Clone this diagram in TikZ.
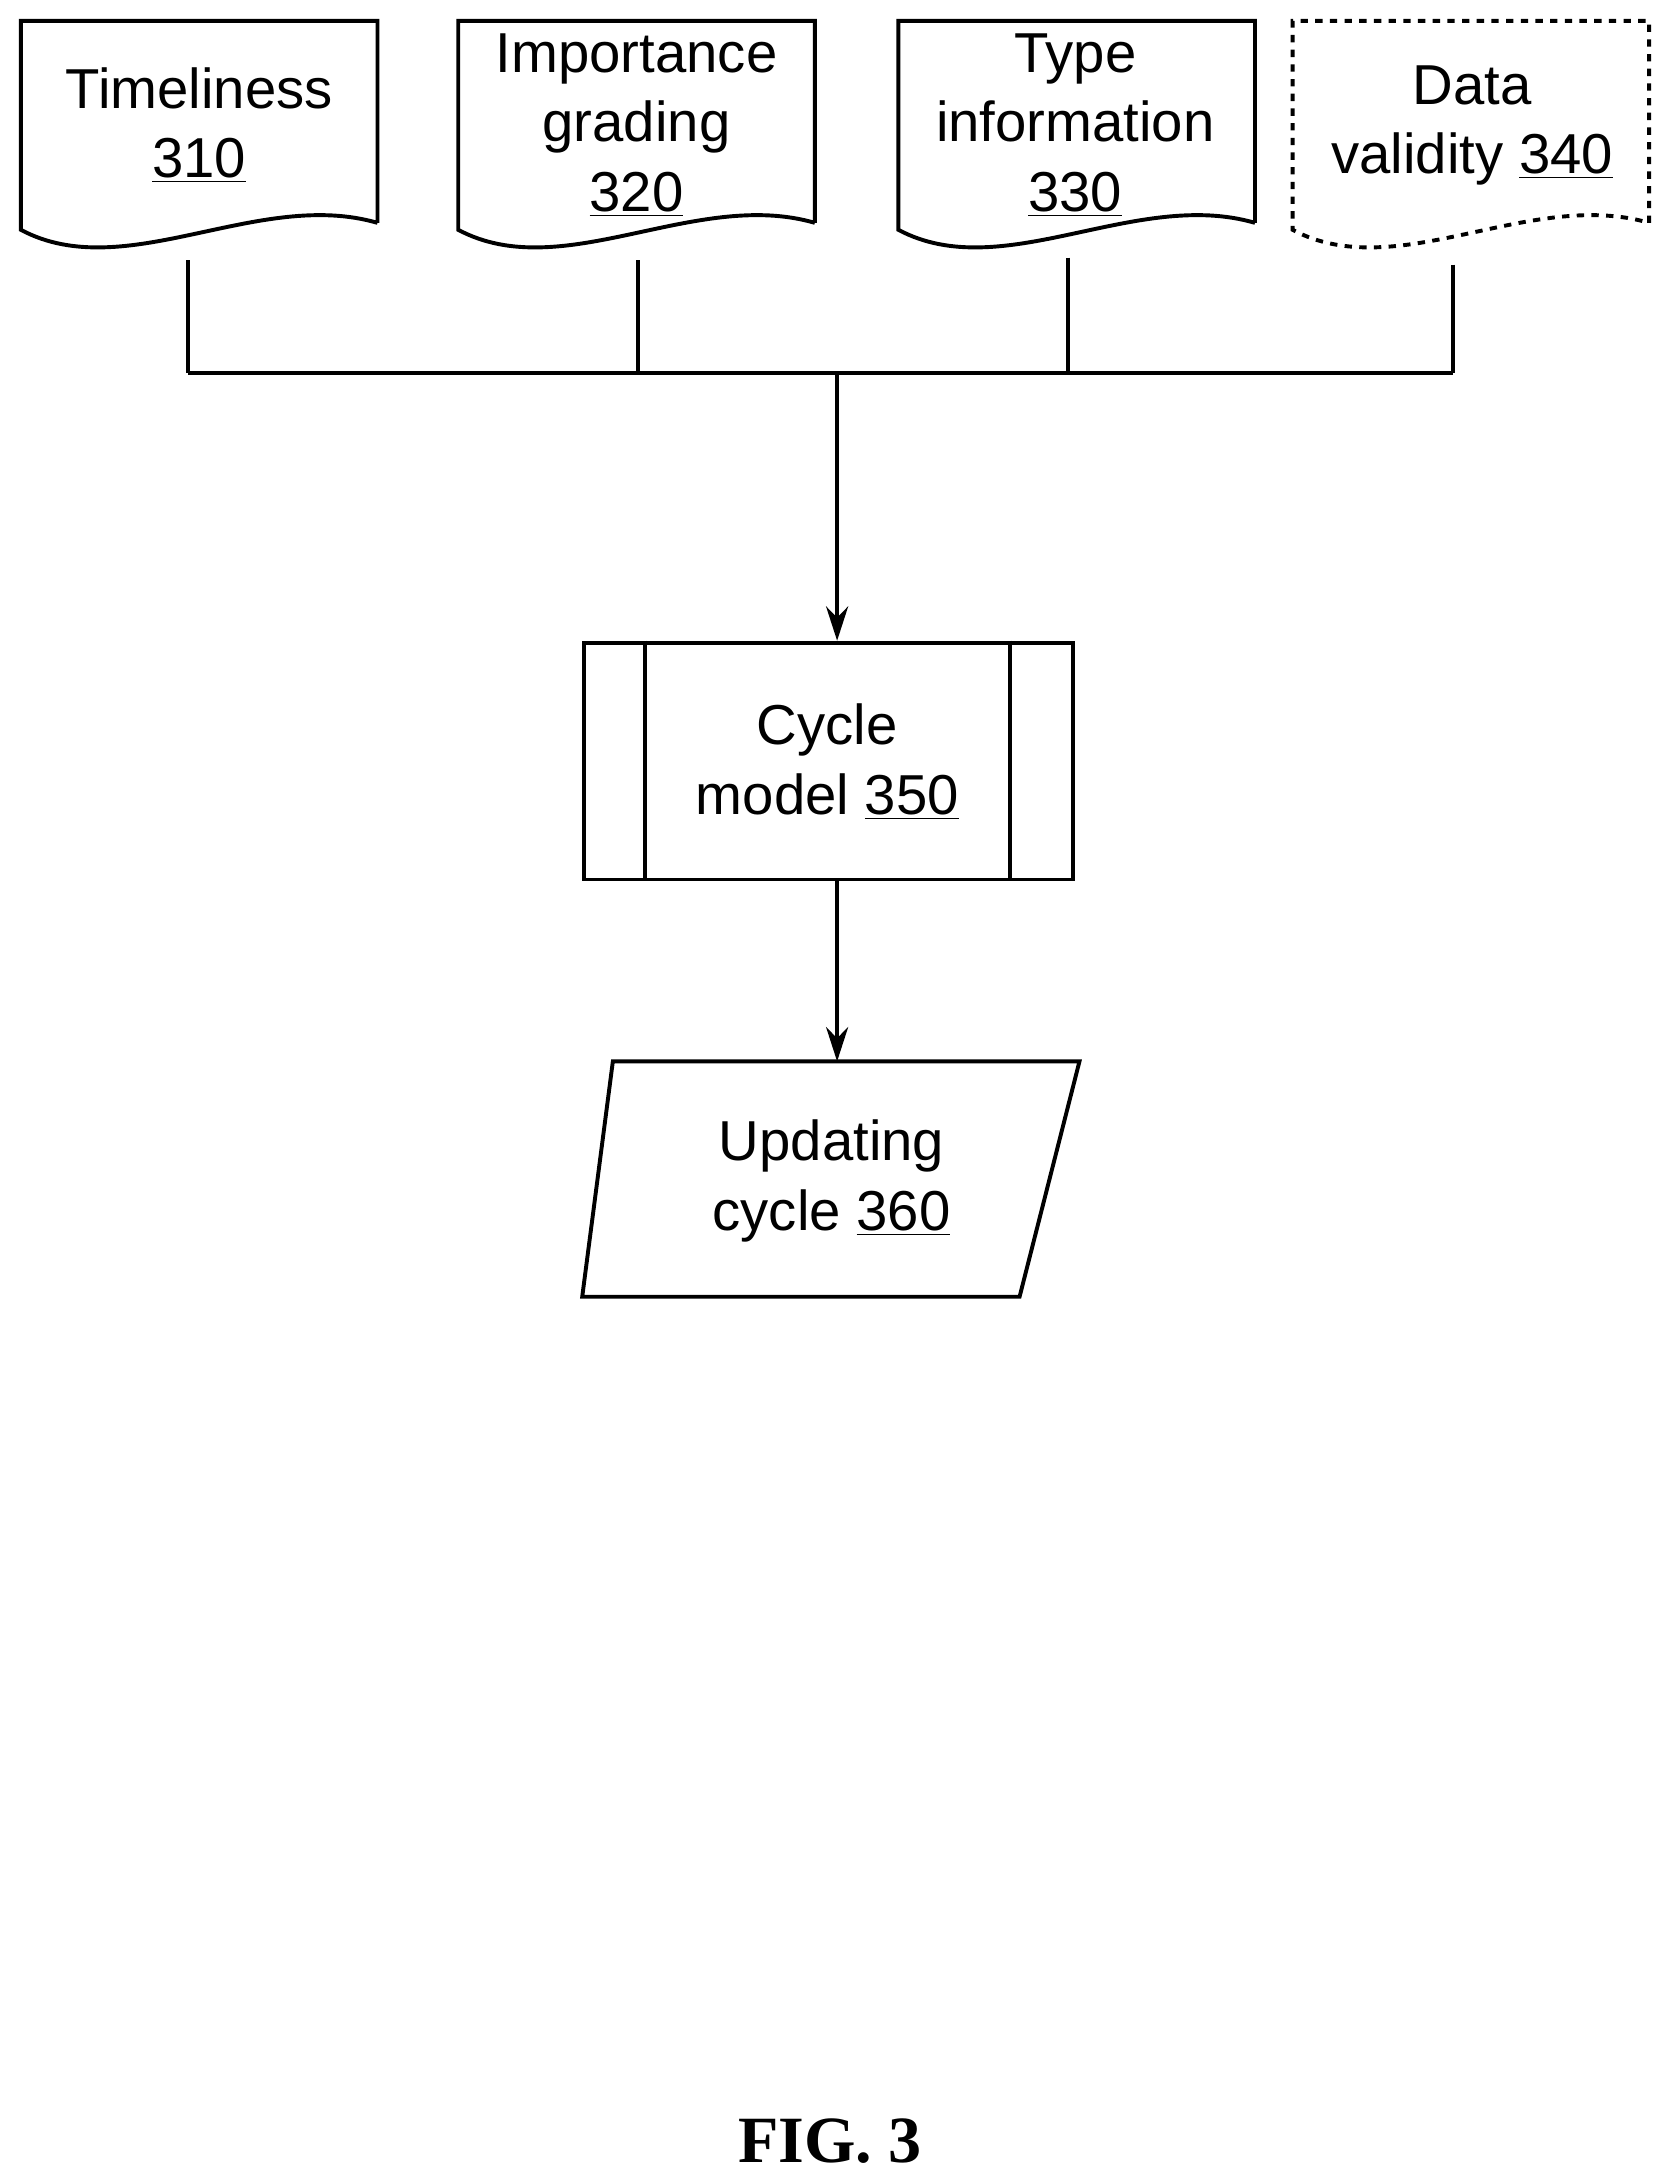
\documentclass[tikz,border=0pt]{standalone}
\usepackage{fontspec}
\setmainfont{Liberation Sans}
\newfontfamily\figfont{Liberation Serif}
\usetikzlibrary{arrows.meta}
\begin{document}
\begin{tikzpicture}[x=0.02cm,y=-0.02cm,
  line width=1.6pt,
  lbl/.style={align=center,font=\fontsize{23}{28.5}\selectfont,inner sep=0pt},
  arr/.style={-{Stealth[length=14pt,width=9pt]}},
  every node/.style={inner sep=0pt}]
\useasboundingbox (0,0) rectangle (1200,1568);
% documents
\foreach \xl/\nm/\st in {15/a/solid,329/b/solid,645/c/solid,928/d/dashed}{
  \draw[\st] (\xl+256,160) -- (\xl+256,15) -- (\xl,15) -- (\xl,165)
    .. controls (\xl+75,205) and (\xl+170,135) .. (\xl+256,160);
}
\node[lbl] (t310) at (143,90) {Timeliness\\\underline{310}};
\node[lbl] (t320) at (457,90) {Importance\\grading\\\underline{320}};
\node[lbl] (t330) at (772,90) {Type\\information\\\underline{330}};
\node[lbl] (t340) at (1057,90) {Data\\validity \underline{340}};
\coordinate (da) at (135,187);
\coordinate (db) at (458,187);
\coordinate (dc) at (767,185);
\coordinate (dd) at (1043,190);
\coordinate (ja) at (135,268);
\coordinate (jb) at (458,268);
\coordinate (jc) at (767,268);
\coordinate (jd) at (1043,268);
\coordinate (jm) at (601,268);
\draw (da) -- (ja); \draw (db) -- (jb); \draw (dc) -- (jc); \draw (dd) -- (jd);
\draw (ja) -- (jd);
% cycle model
\node[draw,minimum width=351*0.02cm,minimum height=170*0.02cm,anchor=north west] (cm) at (418,460) {};
\draw (463,460) -- (463,630);
\draw (725,460) -- (725,630);
\node[lbl] (t350) at (594,547) {Cycle\\model \underline{350}};
\draw[arr] (jm) -- (cm.north -| jm);
% parallelogram
\draw (440,762) -- (775,762) -- (732,931) -- (418,931) -- cycle;
\coordinate (ptop) at (601,762);
\node[lbl] (t360) at (597,848) {Updating\\cycle \underline{360}};
\draw[arr] (cm.south -| ptop) -- (ptop);
\node[font=\figfont\bfseries\fontsize{27}{30}\selectfont] (fig) at (596,1537) {FIG. 3};
\end{tikzpicture}
\end{document}
